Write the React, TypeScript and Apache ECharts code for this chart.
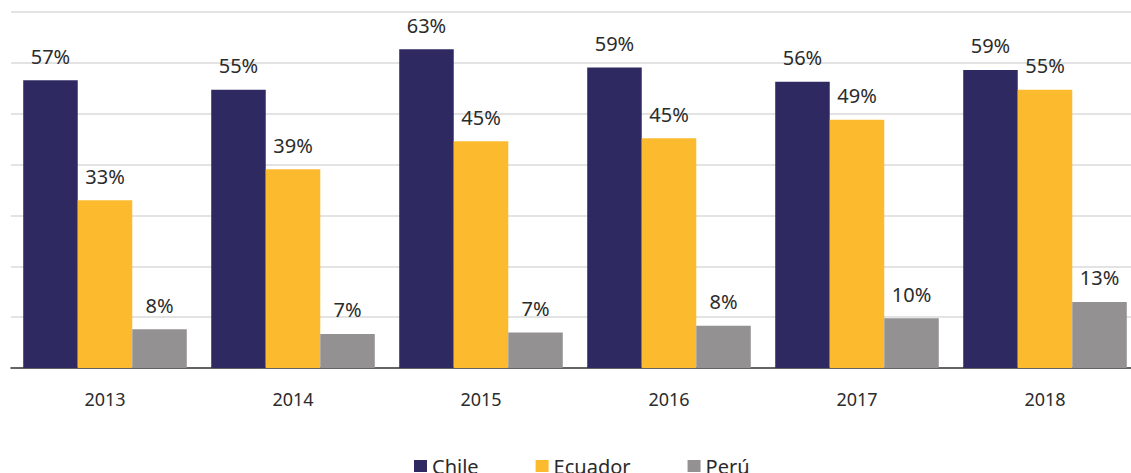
import React, { useEffect, useRef } from "react";
import * as echarts from "echarts";

const categories = ["2013", "2014", "2015", "2016", "2017", "2018"];
const chile = [56.6, 54.7, 62.7, 59.1, 56.3, 58.6];
const ecuador = [33.0, 39.1, 44.6, 45.2, 48.8, 54.7];
const peru = [7.6, 6.7, 7.0, 8.3, 9.8, 13.0];
const seriesNames = ["Chile", "Ecuador", "Perú"];
const colors = ["#2E2A61", "#FCBB2F", "#939191"];

export default function App() {
  const ref = useRef<HTMLDivElement>(null);
  useEffect(() => {
    if (!ref.current) return;
    const chart = echarts.init(ref.current, undefined, { renderer: "svg" });
    const font = "'Noto Sans', sans-serif";
    const label = {
      show: true,
      position: "top",
      distance: 14,
      formatter: (p: any) => Math.round(p.value) + "%",
      fontSize: 20,
      fontFamily: font,
      color: "#2b2b2b",
    };
    const datasets = [chile, ecuador, peru];
    chart.setOption({
      animation: false,
      color: colors,
      grid: { left: 11, right: 0, top: 12, bottom: 105 },
      legend: {
        data: seriesNames,
        left: 414,
        top: 456,
        padding: 0,
        icon: "rect",
        itemWidth: 13,
        itemHeight: 12,
        itemGap: 57,
        textStyle: { fontSize: 20, fontFamily: font, color: "#2b2b2b" },
      },
      xAxis: {
        type: "category",
        data: categories,
        axisTick: { show: false },
        axisLine: { lineStyle: { color: "#3a3a3a", width: 1.5 } },
        axisLabel: { fontSize: 18, fontFamily: font, color: "#2b2b2b", margin: 22 },
      },
      yAxis: {
        type: "value",
        min: 0,
        max: 70,
        interval: 10,
        axisLabel: { show: false },
        axisLine: { show: false },
        axisTick: { show: false },
        splitLine: { lineStyle: { color: "#dadada", width: 1.5 } },
      },
      series: seriesNames.map((name, i) => ({
        name,
        type: "bar",
        data: datasets[i],
        barGap: "0%",
        barCategoryGap: "13%",
        label,
      })),
    });
    return () => chart.dispose();
  }, []);
  return (
    <div
      style={{
        position: "absolute",
        left: 0,
        top: 0,
        width: 1131,
        height: 473,
        overflow: "hidden",
      }}
    >
      <div ref={ref} style={{ width: 1139, height: 473 }} />
    </div>
  );
}
